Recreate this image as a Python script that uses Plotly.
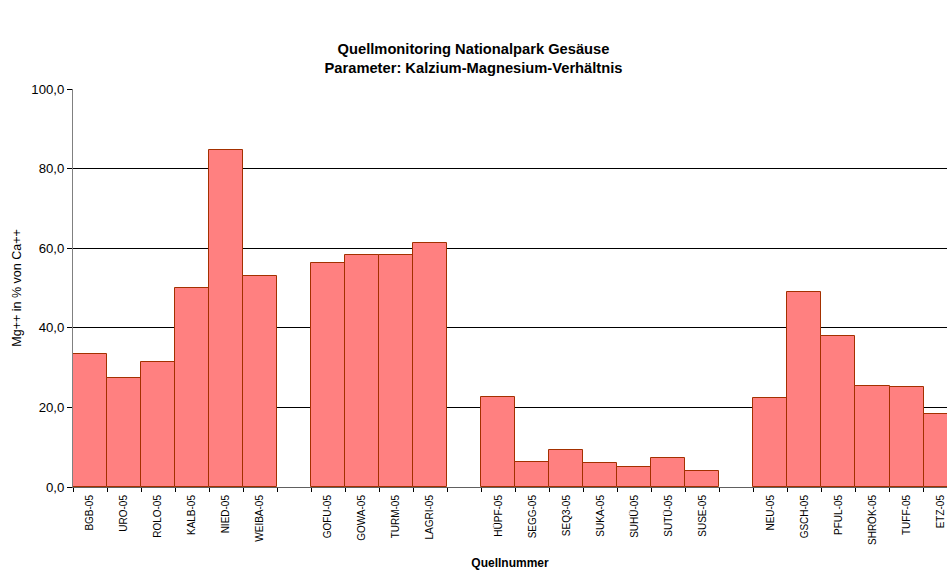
import plotly.graph_objects as go

# Spring groups (monitoring sites), each entry is (label, Mg/Ca ratio in %)
group_1_labels = ["BGB-05", "URO-05", "ROLO-05", "KALB-05", "NIED-05", "WEIBA-05"]
group_1_values = [33.3, 27.4, 31.5, 50.1, 84.8, 53.1]

group_2_labels = ["GOFU-05", "GOWA-05", "TURM-05", "LAGRI-05"]
group_2_values = [56.4, 58.3, 58.4, 61.3]

group_3_labels = ["HÜPF-05", "SEGG-05", "SEQ3-05", "SUKA-05", "SUHÜ-05", "SUTÜ-05", "SUSE-05"]
group_3_values = [22.6, 6.3, 9.3, 6.0, 5.0, 7.4, 4.0]

group_4_labels = ["NEU-05", "GSCH-05", "PFUL-05", "SHRÖK-05", "TUFF-05", "ETZ-05"]
group_4_values = [22.3, 49.1, 38.0, 25.5, 25.2, 18.3]

y_ticks = [0, 20, 40, 60, 80, 100]

# Build the category axis with an empty slot between groups
groups = [
    (group_1_labels, group_1_values),
    (group_2_labels, group_2_values),
    (group_3_labels, group_3_values),
    (group_4_labels, group_4_values),
]
cats, vals = [], []
for i, (labs, vs) in enumerate(groups):
    if i > 0:
        cats.append(" " * i)  # unique blank spacer category
        vals.append(None)
    cats.extend(labs)
    vals.extend(vs)

fig = go.Figure(
    go.Bar(
        x=cats,
        y=vals,
        marker=dict(color="#FF8080", line=dict(color="#A33000", width=1)),
        width=1.0,
        hoverinfo="x+y",
    )
)

font = "Liberation Sans, Arial, sans-serif"

fig.update_layout(
    width=947,
    height=570,
    margin=dict(l=73, r=0, t=89, b=83),
    paper_bgcolor="white",
    plot_bgcolor="white",
    separators=",.",
    showlegend=False,
    bargap=0,
    font=dict(family=font, color="black"),
    title=dict(
        text="<b>Quellmonitoring Nationalpark Gesäuse<br>Parameter: Kalzium-Magnesium-Verhältnis</b>",
        x=0.5,
        xanchor="center",
        y=0.905,
        yanchor="top",
        font=dict(size=14.7, family=font, color="black"),
    ),
)

fig.update_xaxes(
    type="category",
    categoryorder="array",
    categoryarray=cats,
    range=[-0.5, 25.19],
    tickson="boundaries",
    ticks="outside",
    ticklen=4,
    tickcolor="black",
    tickangle=-90,
    tickfont=dict(size=10, family=font),
    ticklabelstandoff=3,
    showline=True,
    linecolor="#606060",
    linewidth=1,
    showgrid=False,
    zeroline=False,
    title=dict(text="<b>Quellnummer</b>", font=dict(size=12, family=font), standoff=14),
)

fig.update_yaxes(
    range=[0, 100],
    tickvals=y_ticks,
    tickformat=".1f",
    ticks="outside",
    ticklen=5,
    tickcolor="black",
    tickfont=dict(size=13.2, family=font),
    showline=True,
    linecolor="#808080",
    linewidth=1,
    showgrid=True,
    gridcolor="black",
    gridwidth=1,
    zeroline=False,
    title=dict(text="Mg++ in % von Ca++", font=dict(size=12.5, family=font), standoff=6),
)

fig.write_html("out.html")
